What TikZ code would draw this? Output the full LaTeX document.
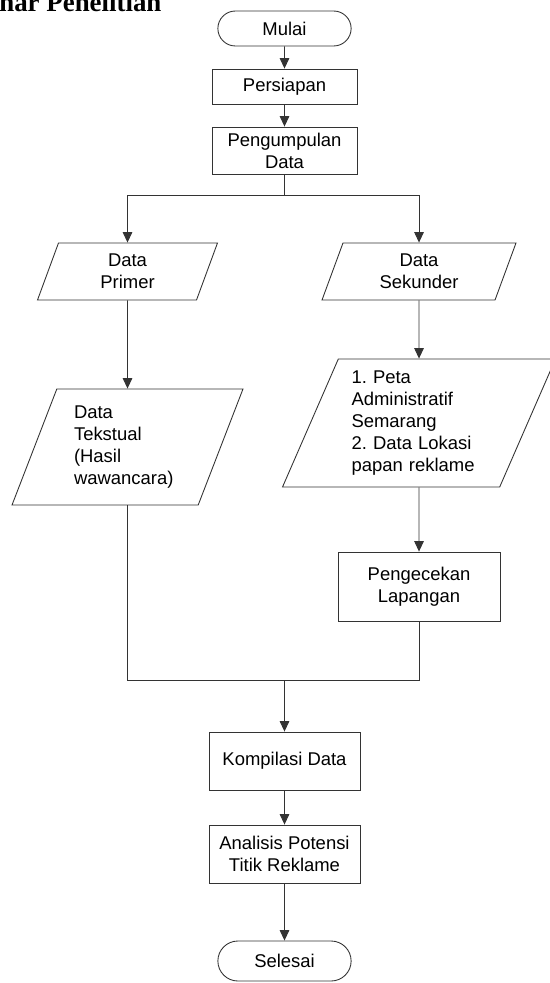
\documentclass[tikz,border=0pt]{standalone}
\usepackage{fontspec}
\setmainfont{Liberation Sans}
\newfontfamily\judulfont{Liberation Serif}
\usepackage{tikz}
\usetikzlibrary{arrows.meta, positioning, shapes.geometric, shapes.misc}
\frenchspacing

\tikzset{
	garis/.style={line width=0.5pt, draw=black!80},
	proses/.style={garis, rectangle, align=center, inner sep=2pt,
		minimum width=2.9cm, minimum height=0.7cm},
	terminal/.style={garis, rounded rectangle, align=center,
		minimum width=2.9cm, minimum height=0.7cm},
	masukan/.style={garis, trapezium, trapezium left angle=63.4,
		trapezium right angle=116.6, trapezium stretches body, inner sep=2pt},
	panah/.style={garis, -{Triangle[width=5.5pt,length=6pt]}},
	hubung/.style={garis},
	every node/.append style={font=\fontsize{10.5}{12.5}\selectfont}
}

\begin{document}
\begin{tikzpicture}[x=0.02cm, y=-0.02cm]
	% page frame
	\useasboundingbox (0,0) rectangle (550,983);
	
	% kolom
	\def\tengah{284.5}
	\def\kiri{127.5}
	\def\kanan{419}
	
	% judul
	\node[anchor=base west, inner sep=0pt, font=\judulfont\bfseries\fontsize{15.3}{18}\selectfont] (judul) at (-1,11.5) {nar Penelitian};
	
	% alur utama atas
	\node[terminal] (mulai) at (\tengah,28.5) {Mulai};
	\node[proses] (persiapan) at (\tengah,86.5) {Persiapan};
	\node[proses, minimum height=0.94cm] (kumpul) at (\tengah,150.5) {Pengumpulan\\Data};
	\coordinate (cabang) at (\tengah,195);
	
	% cabang kiri
	\node[masukan, minimum width=3.6cm, minimum height=1.14cm, align=center] (primer) at (\kiri,271.5) {Data\\Primer};
	\node[masukan, minimum width=4.62cm, minimum height=2.32cm, align=left, text width=2.14cm] (tekstual) at (\kiri,447) {Data\\Tekstual\\(Hasil\\wawancara)};
	
	% cabang kanan
	\node[masukan, minimum width=3.88cm, minimum height=1.14cm, align=center] (sekunder) at (\kanan,271.5) {Data\\Sekunder};
	\node[masukan, minimum width=5.46cm, minimum height=2.56cm, align=left, text width=2.7cm] (peta) at (\kanan,423) {1. Peta\\Administratif\\Semarang\\2. Data Lokasi\\papan reklame};
	\node[proses, minimum width=3.24cm, minimum height=1.38cm] (cek) at (\kanan,586.5) {Pengecekan\\Lapangan};
	\coordinate (gabung) at (\tengah,680);
	
	% alur utama bawah
	\node[proses, minimum width=3.02cm, minimum height=1.16cm] (kompilasi) at (\tengah,761) {Kompilasi Data};
	\node[proses, minimum width=3.02cm, minimum height=1.16cm] (analisis) at (\tengah,854) {Analisis Potensi\\Titik Reklame};
	\node[terminal, minimum height=0.8cm] (selesai) at (\tengah,961) {Selesai};
	
	% panah
	\draw[panah] (mulai) -- (persiapan);
	\draw[panah] (persiapan) -- (kumpul);
	\draw[hubung] (kumpul) -- (cabang);
	\draw[panah] (cabang) -| (primer.north);
	\draw[panah] (cabang) -| (sekunder.north);
	\draw[panah] (primer.south) -- (tekstual.north);
	\draw[panah] (sekunder.south) -- (peta.north);
	\draw[panah] (peta.south) -- (cek.north);
	\draw[hubung] (tekstual.south) |- (gabung);
	\draw[hubung] (cek.south) |- (gabung);
	\draw[panah] (gabung) -- (kompilasi);
	\draw[panah] (kompilasi) -- (analisis);
	\draw[panah] (analisis) -- (selesai);
\end{tikzpicture}
\end{document}
